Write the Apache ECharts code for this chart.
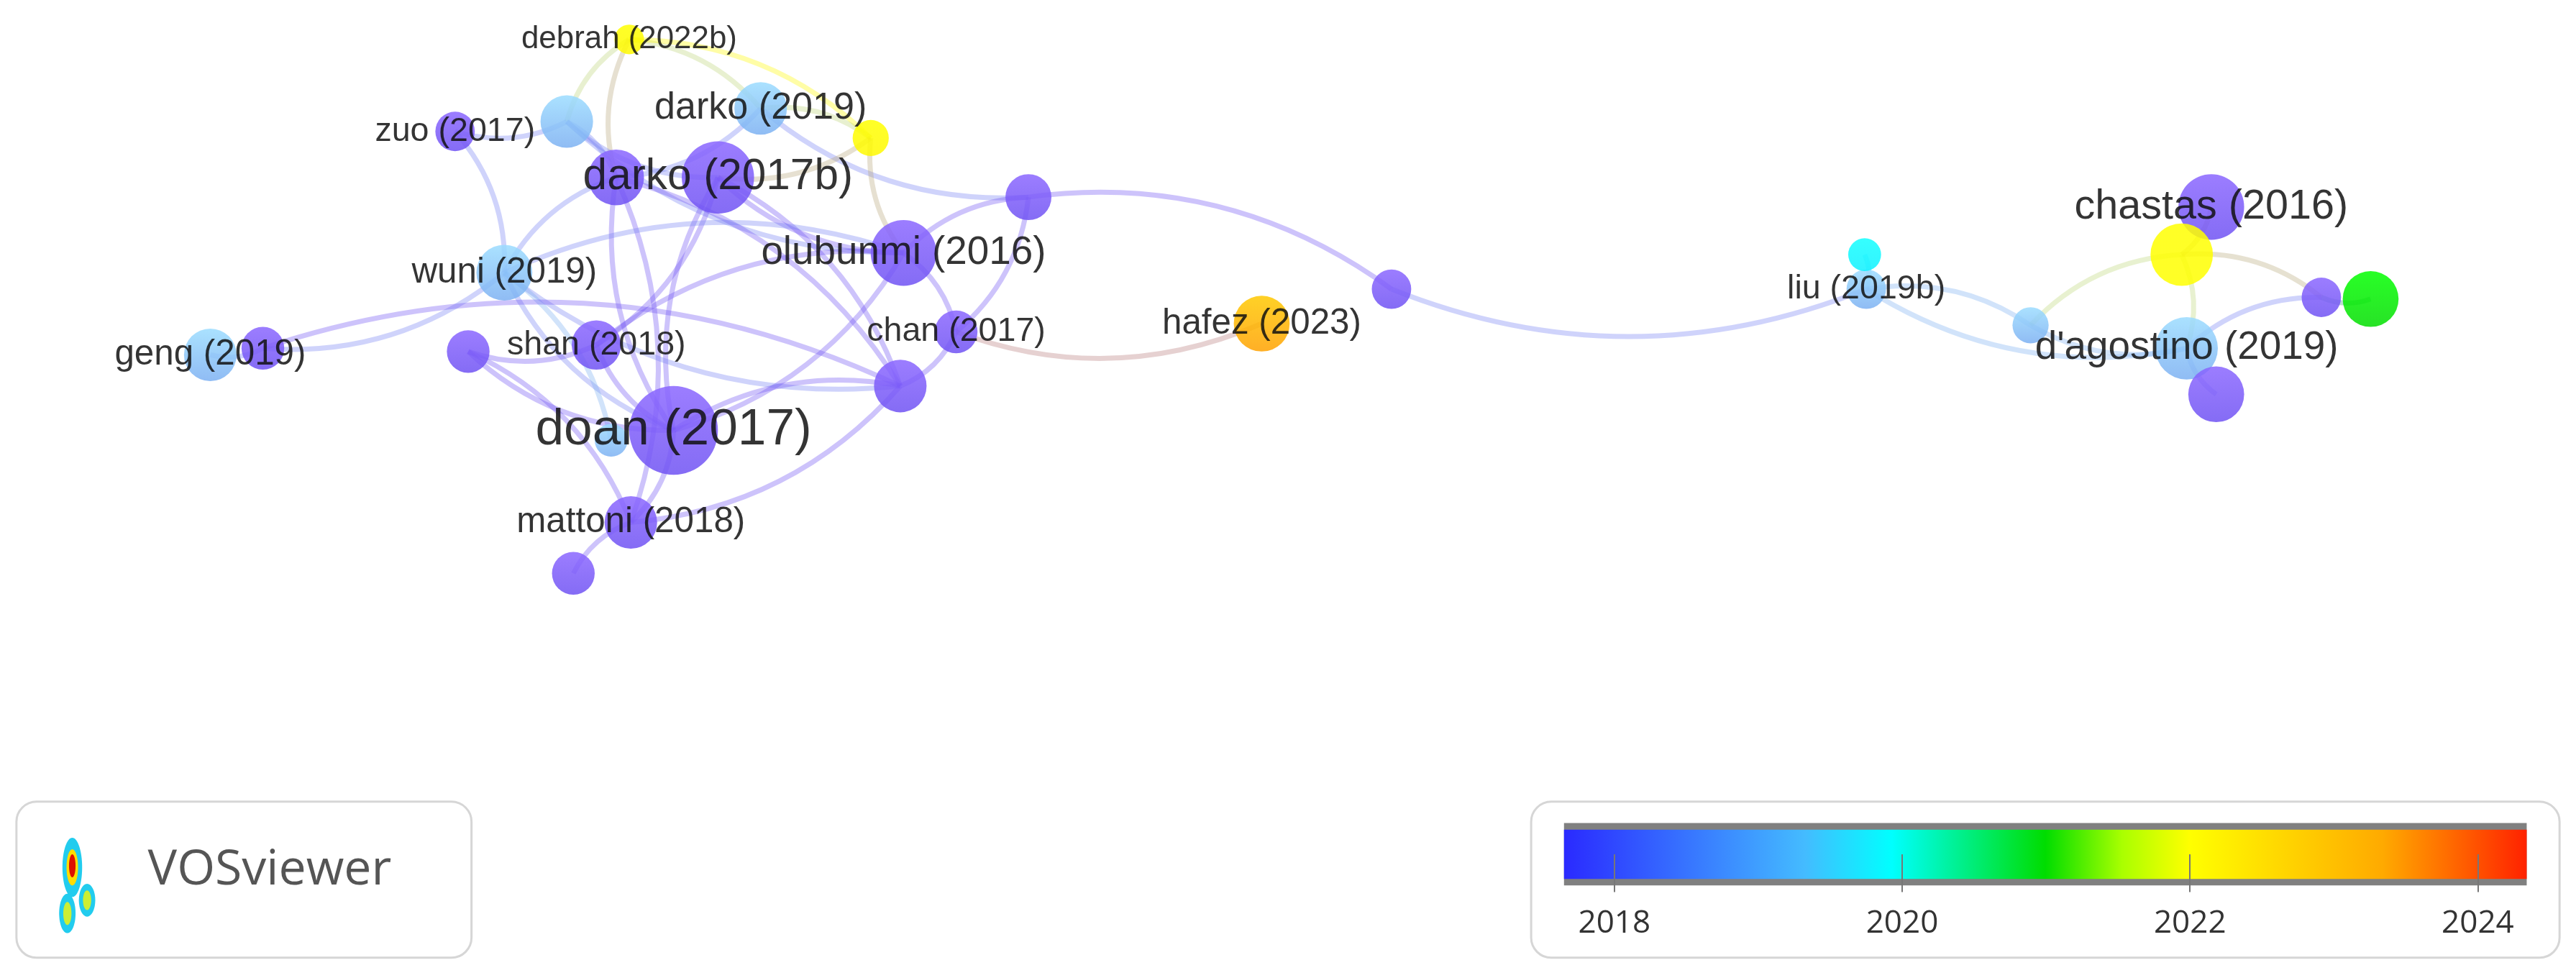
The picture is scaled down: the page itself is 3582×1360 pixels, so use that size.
<!DOCTYPE html>
<html>
<head>
<meta charset="utf-8">
<script src="https://cdn.jsdelivr.net/npm/echarts@6/dist/echarts.min.js"></script>
<style>
  html, body { margin: 0; padding: 0; background: #fff; }
  #main { width: 3582px; height: 1360px; }
</style>
</head>
<body>
<div id="main"></div>
<script>
// 节点: 名称, 坐标(参考图坐标), 半径, 平均年份
var nodeNames = ['debrah (2022b)', '', 'zuo (2017)', 'darko (2019)', '', 'darko (2017b)', '', '',
    'olubunmi (2016)', 'wuni (2019)', 'geng (2019)', '', 'shan (2018)', '', 'chan (2017)', '',
    'hafez (2023)', '', 'doan (2017)', '', 'mattoni (2018)', '', 'liu (2019b)', '', '',
    'chastas (2016)', '', '', '', 'd\'agostino (2019)', ''];
var nodeX = [383, 345, 277, 463, 530, 437, 375, 626, 550, 307, 128, 160, 363, 285, 582, 548,
    768, 847, 410, 372, 384, 349, 1136, 1135, 1236, 1346, 1328, 1413, 1443, 1331, 1349];
var nodeY = [24, 74, 80, 66, 84, 108, 108, 120, 154, 166, 216, 212, 210, 214, 202, 235,
    197, 176, 262, 268, 318, 349, 176, 155, 198, 126, 155, 181, 182, 212, 240];
var nodeR = [9, 16, 12, 16, 11, 22, 17, 14, 20, 17, 16, 13, 15, 13, 13, 16,
    17, 12, 27, 10, 16, 13, 12, 10, 11, 20, 19, 12, 17, 19, 17];
var nodeYear = [2022.1, 2019, 2017, 2019, 2022.1, 2017, 2017, 2017, 2016, 2019, 2019, 2017, 2017, 2017, 2017, 2017,
    2023.4, 2017, 2017, 2019, 2017, 2017, 2019, 2019.8, 2019, 2016, 2022, 2017, 2021, 2019, 2017];
var labelSize = [16, 0, 17, 19, 0, 22, 0, 0, 20, 18, 18, 0, 17, 0, 17, 0,
    18, 0, 26, 0, 18, 0, 17, 0, 0, 21, 0, 0, 0, 20, 0];

// 连线
var links = [[0, 1], [0, 3], [0, 6], [0, 4], [2, 1], [2, 9], [1, 5], [1, 6], [1, 8], [3, 4], [3, 7], [3, 6],
    [4, 8], [4, 5], [5, 18], [5, 15], [5, 8], [5, 12], [6, 18], [6, 20], [6, 9], [6, 15], [7, 8],
    [7, 17], [17, 22], [7, 14], [8, 9], [8, 18], [8, 12], [8, 14], [14, 16], [14, 15],
    [9, 15], [9, 11], [9, 18], [9, 19], [10, 11], [11, 15], [12, 18], [12, 13], [13, 18], [13, 20],
    [15, 18], [15, 20], [20, 21], [18, 20], [22, 23], [22, 24], [22, 29], [24, 26], [24, 29],
    [26, 29], [26, 25], [26, 27], [27, 28], [29, 27], [29, 30]];

// 颜色条
var barMin = 2017.65, barMax = 2024.34;
var barTicks = [2018, 2020, 2022, 2024];
var barStops = [[0, '#2a2aff'], [0.25, '#44bbff'], [0.34, '#00ffff'], [0.5, '#00dd00'],
    [0.58, '#aaff00'], [0.65, '#ffff00'], [0.85, '#ffaa00'], [1, '#ff2200']];

var S = 3582 / 1568;

function mix(ca, cb, k) {
    return [0, 1, 2].map(function (j) { return Math.round(ca[j] + (cb[j] - ca[j]) * k); });
}
function yearRGB(y) {
    if (y < 2018) return echarts.color.parse('#6f52f3');
    if (y >= 2018.8 && y <= 2019.3) return echarts.color.parse('#7cb0f2');
    var t = (y - barMin) / (barMax - barMin);
    for (var i = 1; i < barStops.length; i++) {
        if (t <= barStops[i][0]) {
            var a = barStops[i - 1], b = barStops[i];
            return mix(echarts.color.parse(a[1]), echarts.color.parse(b[1]), (t - a[0]) / (b[0] - a[0]));
        }
    }
    return echarts.color.parse(barStops[barStops.length - 1][1]);
}
function rgb(c) { return 'rgb(' + c.slice(0, 3).join(',') + ')'; }

var nodes = [];
for (var i = 0; i < nodeX.length; i++) {
    var c = rgb(yearRGB(nodeYear[i]));
    nodes.push({
        name: 'n' + i,
        value: [nodeX[i], nodeY[i]],
        symbolSize: nodeR[i] * 2 * S,
        itemStyle: {
            color: new echarts.graphic.LinearGradient(0, 0, 0, 1, [
                { offset: 0, color: echarts.color.lift(c, -0.25) },
                { offset: 1, color: c }
            ]),
            opacity: 0.85
        },
        label: {
            show: !!nodeNames[i],
            formatter: nodeNames[i],
            position: 'inside',
            fontSize: labelSize[i] * S * 1.2,
            color: '#111',
            fontFamily: 'Liberation Sans'
        }
    });
}
var edges = links.map(function (l, i) {
    var c = mix(yearRGB(nodeYear[l[0]]), yearRGB(nodeYear[l[1]]), 0.5);
    return {
        source: 'n' + l[0],
        target: 'n' + l[1],
        lineStyle: {
            color: rgb(c),
            opacity: 0.35,
            width: 7,
            curveness: (i % 2 ? 0.2 : -0.2)
        }
    };
});

var chart = echarts.init(document.getElementById('main'));
chart.setOption({
    backgroundColor: '#fff',
    animation: false,
    grid: [
        { left: 0, right: 0, top: 0, bottom: 0 },
        { left: 952 * S, width: 586 * S, top: 503 * S, height: 40 * S }
    ],
    xAxis: [
        { gridIndex: 0, type: 'value', min: 0, max: 1568, show: false },
        {
            gridIndex: 1, type: 'value', min: barMin, max: barMax, z: 10,
            axisLine: { show: false },
            splitLine: { show: false },
            axisTick: { show: true, inside: true, length: 23 * S, customValues: barTicks,
                lineStyle: { color: '#777', width: 2 } },
            axisLabel: { customValues: barTicks, fontSize: 44, color: '#333', margin: 22,
                fontFamily: 'Open Sans', formatter: function (v) { return String(v); } }
        }
    ],
    yAxis: [
        { gridIndex: 0, type: 'value', min: 0, max: 1360 / S, inverse: true, show: false },
        { gridIndex: 1, type: 'value', show: false }
    ],
    graphic: [
        { type: 'rect', z: 1, shape: { x: 10 * S, y: 488 * S, width: 277 * S, height: 95 * S, r: 28 },
          style: { fill: '#fff', stroke: '#d6d6d6', lineWidth: 3 } },
        { type: 'rect', z: 1, shape: { x: 932 * S, y: 488 * S, width: 626 * S, height: 95 * S, r: 28 },
          style: { fill: '#fff', stroke: '#d6d6d6', lineWidth: 3 } },
        { type: 'rect', z: 2, shape: { x: 952 * S, y: 501 * S, width: 586 * S, height: 38 * S },
          style: { fill: '#808080' } },
        { type: 'rect', z: 3, shape: { x: 952 * S, y: 505 * S, width: 586 * S, height: 30 * S },
          style: { fill: new echarts.graphic.LinearGradient(0, 0, 1, 0,
              barStops.map(function (s) { return { offset: s[0], color: s[1] }; })) } },
        { type: 'text', z: 3, left: 90 * S, top: 515 * S,
          style: { text: 'VOSviewer', fontSize: 68, fill: '#555', fontFamily: 'Open Sans' } },
        { type: 'ellipse', z: 3, shape: { cx: 44 * S, cy: 528 * S, rx: 6 * S, ry: 18 * S }, style: { fill: '#22ccee' } },
        { type: 'ellipse', z: 3, shape: { cx: 44 * S, cy: 528 * S, rx: 3.5 * S, ry: 11 * S }, style: { fill: '#ffdd00' } },
        { type: 'ellipse', z: 3, shape: { cx: 44 * S, cy: 527 * S, rx: 2 * S, ry: 7 * S }, style: { fill: '#dd1100' } },
        { type: 'ellipse', z: 3, shape: { cx: 41 * S, cy: 556 * S, rx: 5 * S, ry: 12 * S }, style: { fill: '#22ccee' } },
        { type: 'ellipse', z: 3, shape: { cx: 41 * S, cy: 556 * S, rx: 2.5 * S, ry: 7 * S }, style: { fill: '#ccee33' } },
        { type: 'ellipse', z: 3, shape: { cx: 53 * S, cy: 548 * S, rx: 5 * S, ry: 10 * S }, style: { fill: '#22ccee' } },
        { type: 'ellipse', z: 3, shape: { cx: 53 * S, cy: 548 * S, rx: 2.5 * S, ry: 6 * S }, style: { fill: '#ccee33' } }
    ],
    series: [{
        type: 'graph',
        coordinateSystem: 'cartesian2d',
        xAxisIndex: 0,
        yAxisIndex: 0,
        symbol: 'circle',
        data: nodes,
        links: edges,
        emphasis: { disabled: true }
    }]
});
</script>
</body>
</html>
